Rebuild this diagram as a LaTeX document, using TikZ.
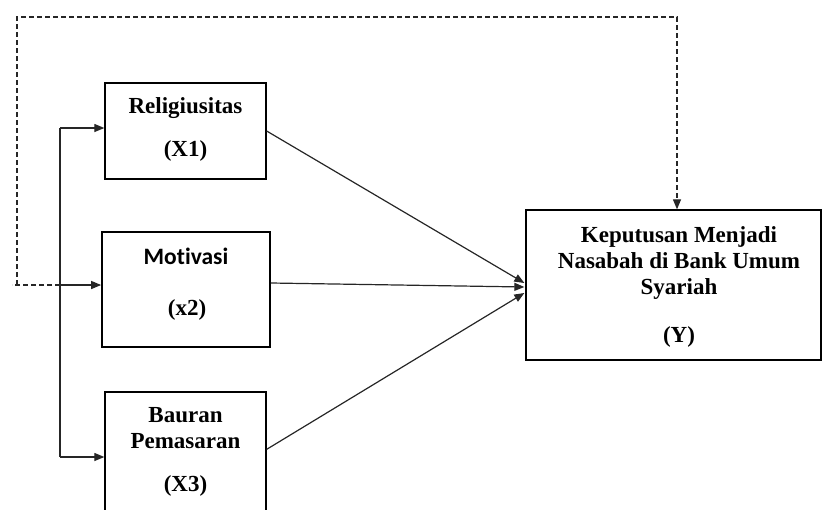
\documentclass[tikz,border=0pt]{standalone}
\usepackage{fontspec}
\setmainfont{Liberation Serif}
\newfontfamily\calib[Ligatures=NoCommon]{Carlito}
\usetikzlibrary{arrows.meta,calc}
\begin{document}
\begin{tikzpicture}[x=1pt,y=-1pt,
  box/.style={draw, line width=1.3pt, inner sep=0pt},
  lbl/.style={font=\fontsize{23}{26}\selectfont\bfseries, anchor=base, inner sep=0pt},
  conn/.style={line width=1.2pt, draw=black!85},
  tip/.style={-{Triangle[length=10pt,width=8pt]}},
  arr/.style={conn, tip},
  dashline/.style={line width=1.2pt, draw=black!85, dash pattern=on 5pt off 3pt}
]
\useasboundingbox (0,0) rectangle (822,509);
\clip (0,0) rectangle (822,509);

% boxes
\node[box, minimum width=161pt, minimum height=96pt] (r) at (185.5,131) {};
\node[box, line width=1.7pt, minimum width=168pt, minimum height=115pt] (m) at (186,289.5) {};
\node[box, minimum width=161pt, minimum height=148pt] (b) at (185.5,466) {};
\node[box, minimum width=295pt, minimum height=150pt] (y) at (673.5,285) {};

% labels
\node[lbl] (t1a) at (185.5,113) {Religiusitas};
\node[lbl] (t1b) at (185.5,156) {(X1)};
\node[lbl] (t2a) at (186,264) {\calib\fontsize{23.5}{26}\selectfont Motivasi};
\node[lbl] (t2b) at (187,315) {(x2)};
\node[lbl] (t3a) at (185.5,422) {Bauran};
\node[lbl] (t3b) at (185.5,448) {Pemasaran};
\node[lbl] (t3c) at (185.5,491) {(X3)};
\node[lbl] (ty1) at (679,242) {Keputusan Menjadi};
\node[lbl] (ty2) at (679,268) {Nasabah di Bank Umum};
\node[lbl] (ty3) at (679,294) {Syariah};
\node[lbl] (ty4) at (679,342) {(Y)};

% junction coordinates
\coordinate (j1) at (60,128);
\coordinate (j2) at (60,285);
\coordinate (j3) at (60,457);
\coordinate (dl) at (17,285);
\coordinate (de) at (12,285);
\coordinate (dtl) at (17,17);
\coordinate (dtr) at (677,17);

% solid distribution line
\draw[conn] (j1) -- (j3);
\draw[arr] (j1) -- (r.west |- j1);
\draw[arr] (j2) -- (m.west |- j2);
\draw[arr] (j3) -- (b.west |- j3);

% dashed feedback line
\draw[dashline] (j2) -- (de);
\draw[dashline, tip] (dl) -- (dtl) -- (dtr) -- (dtr |- y.north);

% paths to Y
\path (m.east) ++(0,-6.5) coordinate (mo);
\path (b.north east) ++(0,58) coordinate (bo);
\path (y.west) ++(-1,-2) coordinate (yi1);
\path (y.west) ++(-1,2) coordinate (yi2);
\path (y.west) ++(-1,8) coordinate (yi3);
\draw[arr] (r.east) -- (yi1);
\draw[arr] (mo) -- (yi2);
\draw[arr] (bo) -- (yi3);
\end{tikzpicture}
\end{document}
